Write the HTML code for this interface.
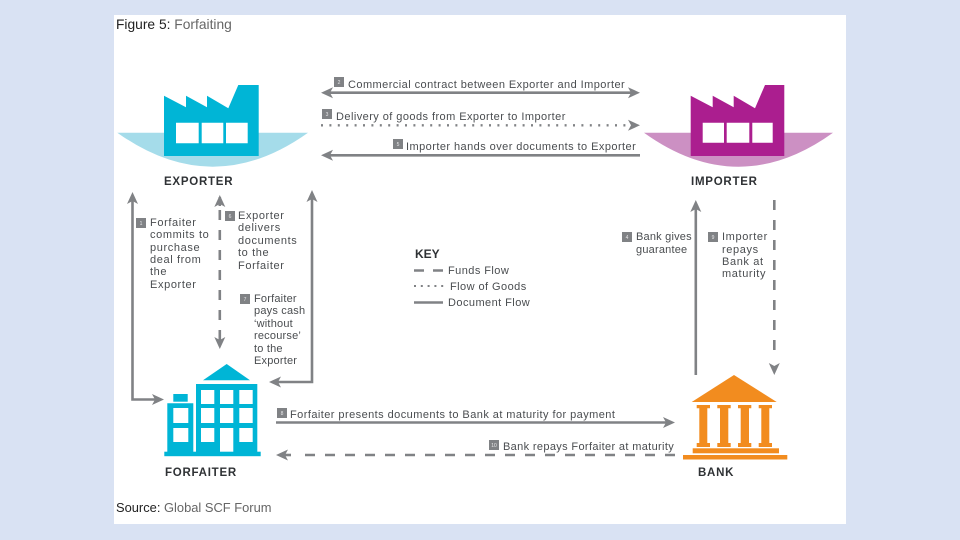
<!DOCTYPE html>
<html><head><meta charset="utf-8"><style>
html,body{margin:0;padding:0;background:#d9e2f3;width:960px;height:540px;overflow:hidden}
svg{display:block;filter:blur(.35px)}
text{font-family:"Liberation Sans",sans-serif;fill:#4a4d50;font-size:11px;letter-spacing:.44px}
.v{letter-spacing:.62px}
.w{letter-spacing:.2px}
.t{fill:#2f3235;font-size:11.5px;font-weight:bold;letter-spacing:.75px}
.n{font-size:5px;fill:#e8e8ea;text-anchor:middle;letter-spacing:0}
.s{stroke:#808285;stroke-width:2.6;fill:none}
.d{stroke:#808285;stroke-width:2.6;fill:none;stroke-dasharray:10 10}
.b,.a{fill:#808285}
</style></head><body>
<svg width="960" height="540" viewBox="0 0 960 540" xmlns="http://www.w3.org/2000/svg">
<rect x="114" y="15" width="732" height="509" fill="#fff"/>
<text x="116" y="29" style="font-size:13.8px;letter-spacing:0"><tspan style="fill:#222">Figure 5:</tspan> <tspan style="fill:#666">Forfaiting</tspan></text>
<text x="116" y="512" style="font-size:12.9px;letter-spacing:0"><tspan style="fill:#222">Source:</tspan> <tspan style="fill:#666">Global SCF Forum</tspan></text>

<!-- exporter -->
<path d="M117.300 132.700H308Q212.600 200.700 117.300 132.700Z" fill="#a5dcea"/>
<path d="M164 95.700L186 107.300V95.700L207 107.300V95.700L228.300 108.300L238.300 85H258.700V156H164Z" fill="#00b5d6"/>
<path fill="#fff" d="M176 122.700h22.700v20.600H176zM201.700 122.700h21.600v20.600h-21.600zM226 122.700h21.700v20.600H226z"/>
<text x="164" y="185" class="t">EXPORTER</text>

<!-- importer -->
<path d="M644 132.700H833Q738.500 200.700 644 132.700Z" fill="#cc90c3"/>
<path d="M690.700 95.700L712.700 107.300V95.700L733.700 107.300V95.700L755 108.300L765 85H784.300V156H690.700Z" fill="#ab1e8f"/>
<path fill="#fff" d="M702.700 122.700H724v20h-21.300zM726.700 122.700h22.600v20h-22.600zM752.300 122.700h20.400v20h-20.400z"/>
<text x="691" y="185" class="t">IMPORTER</text>

<!-- top arrows -->
<path class="s" d="M326 92.700H634"/>
<path class="a" d="M321 92.700L333 87.200L330 92.700L333 98.200Z"/>
<path class="a" d="M640 92.700L628 87.200L631 92.700L628 98.200Z"/>
<path class="s" d="M326 155.300H640"/>
<path class="a" d="M321 155.300L333 149.800L330 155.300L333 160.800Z"/>
<path d="M321 125.300H630" stroke="#808285" stroke-width="2.300" stroke-dasharray="2 6.400" fill="none"/>
<path class="a" d="M640 125.300L628 119.800L631 125.300L628 130.800Z"/>
<rect x="334" y="77" width="10" height="10" class="b"/><text x="339" y="84" class="n">2</text>
<text x="348" y="88">Commercial contract between Exporter and Importer</text>
<rect x="322" y="109" width="10" height="10" class="b"/><text x="327" y="116" class="n">3</text>
<text x="336" y="120">Delivery of goods from Exporter to Importer</text>
<rect x="393" y="139" width="10" height="10" class="b"/><text x="398" y="146" class="n">5</text>
<text x="406" y="150">Importer hands over documents to Exporter</text>

<!-- left verticals -->
<path class="s" d="M132.500 197V399.500H158"/>
<path class="a" d="M132.500 192L127 204L132.500 201L138 204Z"/>
<path class="a" d="M164 399.500L152 394L155 399.500L152 405Z"/>
<path class="d" d="M219.800 210V342"/>
<path class="s" d="M219.800 197V206"/>
<path class="a" d="M219.800 195L214.300 207L219.800 204L225.300 207Z"/>
<path class="a" d="M219.800 349L214.300 337L219.800 340L225.300 337Z"/>
<path class="s" d="M312 194V382H274"/>
<path class="a" d="M312 190L306.500 202L312 199L317.500 202Z"/>
<path class="a" d="M269 382L281 376.500L278 382L281 387.500Z"/>

<rect x="136" y="218" width="10" height="10" class="b"/><text x="141" y="225" class="n">1</text>
<text class="v"><tspan x="150" y="226">Forfaiter</tspan><tspan x="150" y="238">commits to</tspan><tspan x="150" y="251">purchase</tspan><tspan x="150" y="263">deal from</tspan><tspan x="150" y="275">the</tspan><tspan x="150" y="288">Exporter</tspan></text>
<rect x="225" y="211" width="10" height="10" class="b"/><text x="230" y="218" class="n">6</text>
<text class="v"><tspan x="238" y="219">Exporter</tspan><tspan x="238" y="231">delivers</tspan><tspan x="238" y="244">documents</tspan><tspan x="238" y="256">to the</tspan><tspan x="238" y="269">Forfaiter</tspan></text>
<rect x="240" y="294" width="10" height="10" class="b"/><text x="245" y="301" class="n">7</text>
<text class="w"><tspan x="254" y="302">Forfaiter</tspan><tspan x="254" y="314">pays cash</tspan><tspan x="254" y="327">‘without</tspan><tspan x="254" y="339">recourse’</tspan><tspan x="254" y="352">to the</tspan><tspan x="254" y="364">Exporter</tspan></text>

<!-- key -->
<text x="415" y="258" style="font-size:12px;fill:#2f3235;font-weight:bold;letter-spacing:0">KEY</text>
<path d="M414 270.500H424M433 270.500H443" stroke="#808285" stroke-width="2.600"/>
<text x="448" y="274">Funds Flow</text>
<path d="M414 286H446" stroke="#808285" stroke-width="2" stroke-dasharray="2 4.800"/>
<text x="450" y="290">Flow of Goods</text>
<path d="M414 302.500H443" stroke="#808285" stroke-width="2.600"/>
<text x="448" y="306">Document Flow</text>

<!-- forfaiter -->
<path fill="#00b5d6" d="M203 380.300L226.700 364L250 380.300Z"/>
<path fill="#00b5d6" fill-rule="evenodd" d="M196 384H257.300V455.700H196ZM201 390v14h13.300V390ZM220 390v14h13.300V390ZM239.300 390v14h13.400V390ZM201 408v15h13.300v-15ZM220 408v15h13.300v-15ZM239.300 408v15h13.400v-15ZM201 428v14h13.300v-14ZM220 428v24h13.300v-24ZM239.300 428v14h13.400v-14Z"/>
<path fill="#00b5d6" fill-rule="evenodd" d="M167.300 403.300H193.300V455.700H167.300ZM173.300 408v15h15v-15ZM173.300 428v14h15v-14Z"/>
<rect x="173.300" y="394" width="14.400" height="7.700" fill="#00b5d6"/>
<rect x="164.300" y="451.700" width="96.400" height="4.500" fill="#00b5d6"/>
<text x="165" y="476" class="t">FORFAITER</text>

<!-- bank -->
<path fill="#f28c1f" d="M691.700 402L734 375L776.700 402Z"/>
<path fill="#f28c1f" d="M696.700 405H710v3.300h-2.700V443H710v4h-13.300v-4h2.600V408.300h-2.600ZM717.300 405h13.400v3.300h-2.400V443h2.400v4h-13.400v-4h2.700V408.300h-2.700ZM738 405h13.300v3.300H749V443h2.300v4H738v-4h2.700V408.300H738ZM758.700 405H772v3.300h-2.700V443H772v4h-13.300v-4h2.600V408.300h-2.600Z"/>
<rect x="692.700" y="448.300" width="86.300" height="5" fill="#f28c1f"/>
<rect x="683" y="455" width="104.300" height="4.500" fill="#f28c1f"/>
<text x="698" y="476" class="t">BANK</text>

<!-- right verticals -->
<path class="s" d="M695.800 375V205"/>
<path class="a" d="M695.800 200L690.300 212L695.800 209L701.300 212Z"/>
<path class="d" d="M774.300 200V360"/>
<path class="a" d="M774.300 375L768.800 363L774.300 366L779.800 363Z"/>
<rect x="622" y="232" width="10" height="10" class="b"/><text x="627" y="239" class="n">4</text>
<text class="w"><tspan x="636" y="240">Bank gives</tspan><tspan x="636" y="253">guarantee</tspan></text>
<rect x="708" y="232" width="10" height="10" class="b"/><text x="713" y="239" class="n">9</text>
<text class="v"><tspan x="722" y="240">Importer</tspan><tspan x="722" y="253">repays</tspan><tspan x="722" y="265">Bank at</tspan><tspan x="722" y="277">maturity</tspan></text>

<!-- bottom arrows -->
<path class="s" d="M276 422.500H670"/>
<path class="a" d="M675 422.500L663 417L666 422.500L663 428Z"/>
<path class="d" d="M305 455H675"/>
<path class="s" d="M280 455H291"/>
<path class="a" d="M276 455L288 449.500L285 455L288 460.500Z"/>
<rect x="277" y="408" width="10" height="10" class="b"/><text x="282" y="415" class="n">8</text>
<text x="290" y="418">Forfaiter presents documents to Bank at maturity for payment</text>
<rect x="489" y="440" width="10" height="10" class="b"/><text x="494" y="447" class="n">10</text>
<text x="503" y="450" style="letter-spacing:.35px">Bank repays Forfaiter at maturity</text>
</svg>
</body></html>
